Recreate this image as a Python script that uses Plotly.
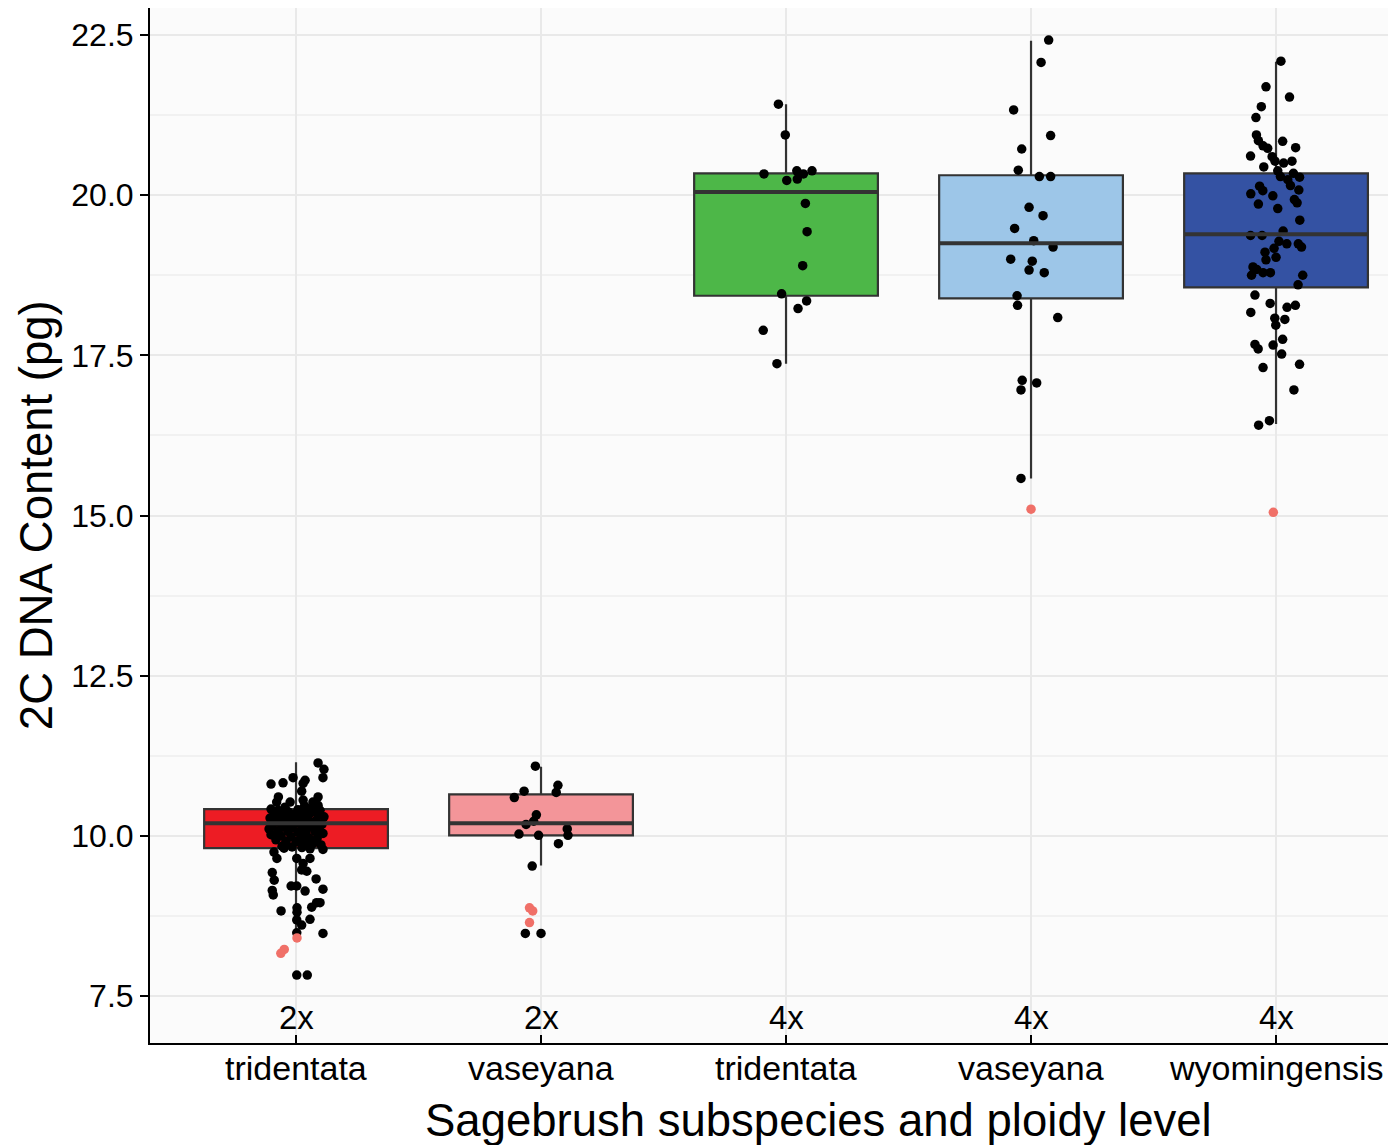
import plotly.graph_objects as go

# ---------------- data ----------------
categories = ["tridentata", "vaseyana", "tridentata", "vaseyana", "wyomingensis"]
ploidy = ["2x", "2x", "4x", "4x", "4x"]
positions = [1, 2, 3, 4, 5]
box_colors = ["#ed1c24", "#f39599", "#4db748", "#9dc6e8", "#3452a3"]

q1 = [9.81, 10.01, 18.43, 18.39, 18.56]
median = [10.20, 10.20, 20.05, 19.25, 19.39]
q3 = [10.42, 10.65, 20.34, 20.31, 20.34]
lower_whisker = [8.48, 9.54, 17.37, 15.58, 16.43]
upper_whisker = [11.15, 11.08, 21.42, 22.41, 22.08]

# jittered observations (value, horizontal jitter in category units)
tri2_vals = [11.14, 11.04, 10.91, 10.81, 10.83, 10.91, 10.87, 10.82, 10.70, 10.61, 10.53, 10.61, 10.53, 10.56, 10.53, 10.48,
             10.42, 10.40, 10.38, 10.41, 10.39, 10.43, 10.40, 10.36, 10.35, 10.34, 10.33, 10.36, 10.32, 10.30,
             10.28, 10.27, 10.26, 10.25, 10.27, 10.24, 10.22, 10.21, 10.20, 10.19, 10.20, 10.18,
             10.15, 10.14, 10.13, 10.12, 10.14, 10.11, 10.08, 10.07, 10.06, 10.05, 10.07, 10.04,
             10.02, 10.00, 9.99, 9.98, 9.97, 9.96, 9.94, 9.92, 9.91, 9.90, 9.88, 9.86, 9.84, 9.83, 9.82, 9.80,
             9.79, 9.75, 9.81, 9.65, 9.65, 9.65, 9.57, 9.47, 9.43, 9.31, 9.45, 9.33, 9.22, 9.22, 9.17, 9.14,
             9.15, 9.08, 8.96, 8.89, 8.96, 8.83, 8.88, 8.81, 8.70, 8.69, 8.61, 8.48, 8.49, 7.83, 7.83,
             10.45, 10.38, 10.31, 10.22, 10.16, 10.09, 10.01, 9.93, 9.86, 10.47, 10.29, 10.11]
tri2_jit = [0.090, 0.114, 0.110, -0.102, -0.053, -0.012, 0.037, 0.029, 0.023, -0.072, -0.079, 0.090, -0.024, 0.029, 0.069, 0.090,
            -0.102, -0.073, -0.033, 0.008, 0.041, 0.065, 0.098, -0.090, -0.049, -0.012, 0.024, 0.057, 0.090, 0.114,
            -0.106, -0.065, -0.024, 0.016, 0.049, 0.082, -0.082, -0.041, 0.000, 0.033, 0.069, 0.106,
            -0.098, -0.057, -0.016, 0.024, 0.057, 0.090, -0.073, -0.033, 0.008, 0.041, 0.078, 0.110,
            -0.102, -0.061, -0.020, 0.020, 0.053, 0.086, -0.082, -0.041, 0.000, 0.037, 0.069, 0.102, -0.057, -0.016, 0.024, 0.057,
            0.110, -0.090, -0.049, -0.078, 0.003, 0.057, 0.029, 0.023, -0.097, -0.089, 0.044, 0.082, -0.020, 0.003, 0.110, 0.037,
            -0.097, -0.093, 0.084, 0.064, 0.098, -0.061, 0.004, 0.004, 0.057, 0.003, 0.023, 0.110, 0.003, 0.003, 0.046,
            -0.045, 0.075, -0.085, 0.050, -0.030, 0.095, -0.070, 0.012, -0.040, 0.035, -0.008, -0.110]

vas2_vals = [11.09, 10.70, 10.79, 10.68, 10.60, 10.33, 10.23, 10.18, 10.11, 10.03, 10.01, 10.01, 9.88, 9.53, 8.48, 8.48]
vas2_jit = [-0.023, -0.069, 0.069, 0.062, -0.109, -0.019, -0.030, -0.061, 0.107, -0.090, -0.010, 0.110, 0.071, -0.036, -0.064, 0.000]

tri4_vals = [21.42, 20.94, 20.33, 20.38, 20.33, 20.38, 20.23, 20.25, 19.87, 19.43, 18.90, 18.46, 18.35, 18.23, 17.89, 17.37]
tri4_jit = [-0.031, -0.003, -0.090, 0.044, 0.071, 0.106, 0.003, 0.046, 0.079, 0.086, 0.068, -0.018, 0.084, 0.049, -0.093, -0.037]

vas4_vals = [22.42, 22.07, 21.33, 20.93, 20.72, 20.39, 20.29, 20.29, 19.81, 19.68, 19.48, 19.29, 19.19, 19.00, 18.97, 18.83,
             18.79, 18.43, 18.28, 18.09, 17.11, 17.07, 16.96, 15.58]
vas4_jit = [0.072, 0.041, -0.071, 0.080, -0.038, -0.052, 0.034, 0.080, -0.008, 0.049, -0.067, 0.011, 0.090, -0.083, 0.005, -0.008,
            0.054, -0.057, -0.055, 0.109, -0.036, 0.023, -0.041, -0.041]

wyo4_vals = [22.09, 21.69, 21.53, 21.38, 21.21, 20.94, 20.85, 20.77, 20.73, 20.84, 20.74, 20.61, 20.60, 20.53, 20.50, 20.53,
             20.44, 20.38, 20.34, 20.29, 20.24, 20.28, 20.14, 20.15, 20.07, 20.08, 20.02, 19.99, 19.93, 19.86, 19.79, 19.88,
             19.61, 19.44, 19.37, 19.37, 19.28, 19.24, 19.24, 19.19, 19.17, 19.11, 19.03, 18.99, 18.88, 18.84, 18.75, 18.79,
             18.79, 18.75, 18.60, 18.44, 18.31, 18.28, 18.25, 18.17, 18.08, 18.06, 17.97, 17.75, 17.67, 17.60, 17.66, 17.52,
             17.31, 17.36, 16.96, 16.41, 16.48]
wyo4_jit = [0.020, -0.041, 0.055, -0.060, -0.082, -0.080, -0.072, -0.053, -0.034, 0.027, 0.080, -0.104, -0.016, -0.004, 0.031, 0.065,
            -0.050, 0.007, 0.071, 0.018, 0.048, 0.096, -0.067, 0.059, -0.054, 0.093, -0.103, -0.013, 0.075, -0.072, 0.007, 0.086,
            0.097, 0.029, -0.104, -0.057, 0.012, 0.044, 0.091, 0.104, -0.008, -0.045, 0.000, -0.041, -0.094, -0.079, -0.100, -0.053,
            -0.023, 0.109, 0.090, -0.086, -0.024, 0.079, 0.045, -0.103, -0.005, 0.036, -0.001, 0.027, -0.086, -0.073, -0.012, 0.023,
            -0.053, 0.096, 0.073, -0.071, -0.027]

# outliers (value, jitter)
out_vals = [[8.41, 8.23, 8.17], [8.88, 8.83, 8.65], [], [15.10], [15.05]]
out_jit = [[0.004, -0.048, -0.062], [-0.047, -0.034, -0.047], [], [0.000], [-0.011]]

y_ticks = [7.5, 10.0, 12.5, 15.0, 17.5, 20.0, 22.5]

point_vals = [tri2_vals, vas2_vals, tri4_vals, vas4_vals, wyo4_vals]
point_jit = [tri2_jit, vas2_jit, tri4_jit, vas4_jit, wyo4_jit]

# ---------------- figure ----------------
FONT = "Liberation Sans, Arial, Helvetica, sans-serif"
BOX_W = 0.75
fig = go.Figure()

for i, pos in enumerate(positions):
    fig.add_trace(go.Box(
        x=[pos], q1=[q1[i]], median=[median[i]], q3=[q3[i]],
        lowerfence=[lower_whisker[i]], upperfence=[upper_whisker[i]],
        width=BOX_W, whiskerwidth=0, fillcolor=box_colors[i],
        line=dict(color="#333333", width=2.2), boxpoints=False,
        hoverinfo="skip", showlegend=False))

for i, pos in enumerate(positions):
    fig.add_trace(go.Scatter(
        x=[pos + j for j in point_jit[i]], y=point_vals[i], mode="markers",
        marker=dict(color="black", size=9.5, line=dict(width=0)),
        showlegend=False, hoverinfo="skip"))

for i, pos in enumerate(positions):
    if out_vals[i]:
        fig.add_trace(go.Scatter(
            x=[pos + j for j in out_jit[i]], y=out_vals[i], mode="markers",
            marker=dict(color="#f07068", size=9.5, line=dict(width=0)),
            showlegend=False, hoverinfo="skip"))

# thicker median lines (ggplot style)
for i, pos in enumerate(positions):
    fig.add_shape(type="line", xref="x", yref="y",
                  x0=pos - BOX_W / 2, x1=pos + BOX_W / 2, y0=median[i], y1=median[i],
                  line=dict(color="#333333", width=4), layer="above")

# ploidy labels just above the x axis line, subspecies labels below it
for i, pos in enumerate(positions):
    fig.add_annotation(x=pos, y=0.0, xref="x", yref="paper", text=ploidy[i],
                       showarrow=False, yanchor="middle", yshift=26,
                       font=dict(size=33, color="black", family=FONT))
    fig.add_annotation(x=pos, y=0.0, xref="x", yref="paper", text=categories[i],
                       showarrow=False, yanchor="middle", yshift=-25,
                       font=dict(size=34, color="black", family=FONT))

# axis titles
fig.add_annotation(x=0.5396, y=0.0, xref="paper", yref="paper",
                   text="Sagebrush subspecies and ploidy level", showarrow=False,
                   yanchor="middle", yshift=-77, font=dict(size=45.5, color="black", family=FONT))
fig.add_annotation(x=0.0, y=0.51, xref="paper", yref="paper",
                   text="2C DNA Content (pg)", showarrow=False, textangle=-90,
                   xanchor="center", xshift=-114, font=dict(size=45.5, color="black", family=FONT))

fig.update_layout(
    width=1388, height=1145,
    margin=dict(l=150, r=0, t=8, b=102),
    paper_bgcolor="white", plot_bgcolor="#fbfbfb",
    boxmode="overlay", showlegend=False,
    font=dict(family=FONT, color="black"),
)
fig.update_xaxes(
    range=[0.404, 5.457], tickmode="array", tickvals=positions, showticklabels=False,
    showgrid=True, gridcolor="#e9e9e9", gridwidth=2, zeroline=False,
    showline=True, linecolor="black", linewidth=2,
    ticks="inside", ticklen=8, tickwidth=2, tickcolor="black",
)
fig.update_yaxes(
    range=[6.77, 22.92], tickmode="array", tickvals=y_ticks,
    ticktext=[f"{v:.1f}" for v in y_ticks],
    showgrid=True, gridcolor="#e9e9e9", gridwidth=2, zeroline=False,
    minor=dict(tick0=8.75, dtick=2.5, showgrid=True, gridcolor="#f1f1f1", gridwidth=1.5, ticks=""),
    showline=True, linecolor="black", linewidth=2,
    ticks="outside", ticklen=8, tickwidth=2, tickcolor="black",
    tickfont=dict(size=32, color="black", family=FONT),
)

fig.write_html("out.html")
